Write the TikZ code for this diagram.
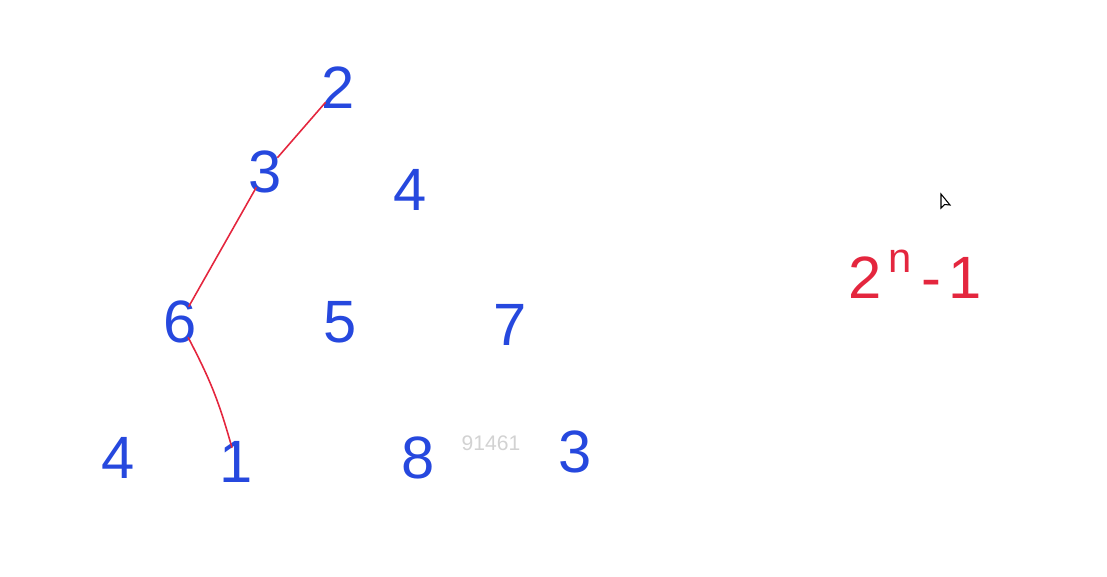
\documentclass[tikz,border=0pt]{standalone}
\usepackage{fontspec}
\setmainfont{Liberation Sans}
\begin{document}
\begin{tikzpicture}[x=0.02cm, y=-0.02cm,
  num/.style={inner sep=0pt, text=inkblue, font=\fontsize{34}{34}\selectfont},
  path/.style={draw=inkred, line width=0.9pt, shorten <=-4pt, shorten >=-4pt}]
  \definecolor{inkblue}{RGB}{38,72,222}
  \definecolor{inkred}{RGB}{228,38,62}
  \useasboundingbox (0,0) rectangle (1107,576);
  % Triangle of numbers
  \node[num] (n2)  at (338,88)  {2};
  \node[num] (n3)  at (265,172) {3};
  \node[num] (n4)  at (410,190) {4};
  \node[num] (n6)  at (180,322) {6};
  \node[num] (n5)  at (340,322) {5};
  \node[num] (n7)  at (510,325) {7};
  \node[num] (n4b) at (118,458) {4};
  \node[num] (n1)  at (236,462) {1};
  \node[num] (n8)  at (418,458) {8};
  \node[num] (n3b) at (575,452) {3};
  % Red path down the triangle
  \draw[path] (n2) -- (n3);
  \draw[path] (n3) -- (n6);
  \draw[path] (n6) to[bend left=6] (n1);
  % Count of paths
  \node[num, text=inkred] (cnt) at (915,274) {2\raisebox{6pt}{\textsuperscript{\kern4pt n}}\kern5pt-\kern4pt1};
  % Watermark and pointer
  \node[text=gray!35, font=\fontsize{12}{12}\selectfont] (wm) at (491,443) {91461};
  \filldraw[fill=white, draw=black, line width=0.6pt] (941,194) -- (941,208) -- (944.5,204.5) -- (950,205) -- cycle;
\end{tikzpicture}
\end{document}
